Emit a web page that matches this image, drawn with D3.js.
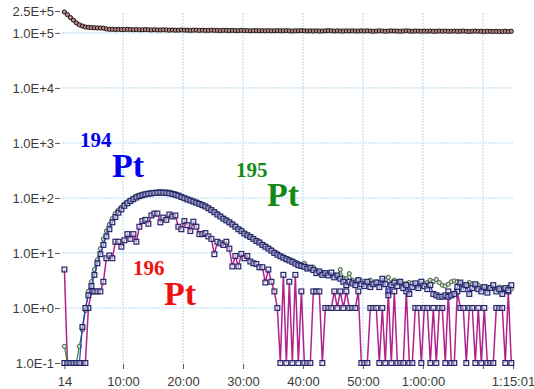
<!DOCTYPE html>
<html>
<head>
<meta charset="utf-8">
<script src="https://cdn.jsdelivr.net/npm/d3@7"></script>
<style>
  body { margin: 0; background: #fff; }
  svg { display: block; }
  .tick text { font-family: "Liberation Sans", Arial, sans-serif; font-size: 13px; fill: #3a3a3a; }
  .tick line { stroke: #555; }
  .iso { font-family: "Liberation Serif", "Times New Roman", serif; font-weight: bold; }
</style>
</head>
<body>
<svg id="Chart" width="534" height="389"></svg>
<script>
// sample grid: first read at 14 s, one read every 30 s (150 reads)
const startSec = 14;
const stepSec = 30;
const endSec = 4501;
const times = d3.range(startSec, endSec, stepSec);

// x tick positions in seconds (last tick is the run end 1:15:01)
const xTicks = [14, 600, 1200, 1800, 2400, 3000, 3600, 4200, 4501];
const yTicks = [0.1, 1, 10, 100, 1000, 10000, 100000, 250000];

// top trace (internal standard / total)
const total = [
  240000,215000,190000,170000,152000,140000,133000,128000,126000,125000,124000,123000,123000,122000,118000,116000,
  116000,115000,116000,115000,115000,116000,115000,114000,115000,114000,114000,115000,114000,113000,114000,113000,113000,114000,113000,112000,113000,112000,112000,113000,
  112000,112000,111000,112000,112000,111000,112000,111000,111000,112000,111000,111000,110000,111000,111000,110000,111000,110000,110000,111000,110000,110000,109000,110000,110000,109000,110000,109000,110000,109000,
  109000,110000,109000,109000,110000,109000,108000,109000,109000,110000,109000,108000,109000,108000,109000,108000,108000,109000,110000,109000,108000,109000,108000,108000,109000,108000,109000,108000,108000,109000,
  108000,109000,108000,107000,108000,109000,108000,107000,108000,109000,108000,108000,107000,108000,109000,108000,107000,108000,108000,107000,108000,107000,108000,107000,107000,108000,107000,108000,107000,107000,
  108000,107000,107000,108000,107000,106000,107000,108000,107000,107000,106000,107000,107000,106000,107000,106000,106000,107000,106000,107000
];

// 195Pt
const pt195 = [
  0.2,0.1,0.1,0.1,0.1,0.2,0.4,0.9,2.0,3.0,
  5.0,7.5,12,18,25,33,42,52,60,68,
  78,85,92,100,108,113,118,121,124,126,
  128,130,131,130,130,128,124,120,114,108,
  101,96,92,88,84,80,76,72,67,62,
  57,52,47,43,40,37,34,31,28,26,
  23,21,20,18.5,17,16,14.5,13.5,12.5,11.5,
  10.5,9.8,9.0,8.5,8.0,7.6,7.2,6.8,6.5,6.2,
  6.5,5.6,5.2,5.5,4.8,4.5,4.3,4.4,4.2,4.0,
  4.0,3.8,5.0,3.5,3.4,4.2,3.2,3.0,3.3,3.1,
  3.0,2.9,3.2,2.8,3.0,2.9,2.7,3.3,3.6,2.8,
  3.2,3.0,2.9,2.7,2.8,2.9,2.8,2.6,2.5,2.6,
  2.8,2.9,3.2,3.0,3.3,2.9,2.6,2.5,2.7,3.0,
  3.1,3.0,2.8,2.6,2.5,2.9,2.7,2.5,2.6,2.4,
  2.3,2.2,2.4,2.3,2.2,2.4,2.3,2.2,2.4,2.2
];

// 194Pt
const pt194 = [
  0.1,0.1,0.1,0.1,0.1,0.1,0.45,1.0,1.7,2.5,
  4.0,6.5,9.5,14,20,27,36,45,54,62,
  72,80,88,95,102,108,112,116,119,121,
  123,124,125,124,123,121,118,114,110,104,
  99,94,90,86,82,78,74,70,65,60,
  55,50,46,42,39,36,33,30,27,25,
  22.5,21,19.5,18,16.5,15.5,14,13,12,11,
  10,9.3,8.7,8.2,7.7,7.3,6.9,6.4,6.0,5.8,
  5.6,5.2,5.4,4.9,4.3,4.6,4.0,4.3,3.9,4.4,
  3.6,3.9,3.4,3.0,2.6,3.0,2.8,2.6,3.2,2.7,
  2.5,3.0,2.4,2.7,2.9,2.4,3.4,2.7,1.7,2.6,
  2.9,2.5,3.0,2.3,2.6,1.8,2.4,2.8,2.3,3.0,
  2.5,2.2,2.6,1.8,1.7,1.6,1.6,1.7,1.6,1.7,
  1.8,2.4,2.9,2.2,2.6,1.8,2.3,2.7,2.2,2.0,
  2.4,1.9,2.3,2.6,2.0,2.2,1.8,2.3,2.1,2.6
];

// 196Pt (zero counts are plotted on the 1.0E-1 floor)
const pt196 = [
  5.0,0.1,0.1,0.1,0.1,0.1,0.1,0.1,1.0,2.0,
  2.0,2.0,2.0,3.0,8,9,8,16,16,13,
  17,22,18,22,16,30,38,40,34,48,
  52,52,36,44,40,50,46,48,30,27,
  38,32,25,37,30,22,22,23,20,18,
  9.5,16,15,14,16,12,5.7,8.8,5.7,9.6,
  8.0,8.8,7.0,6.5,6.3,5.5,5.5,2.9,5.0,3.0,
  2.0,1.0,0.1,4.0,0.1,3.0,0.1,4.0,0.1,2.0,
  0.1,0.1,0.1,2.0,2.0,2.0,0.1,1.0,1.0,1.0,
  2.0,1.0,2.0,1.0,2.0,1.0,1.0,1.0,2.0,0.1,
  0.1,0.1,1.0,1.0,1.0,0.1,1.0,0.1,2.0,0.1,
  2.0,0.1,0.1,0.1,2.0,0.1,0.1,1.0,1.0,0.1,
  1.0,1.0,0.1,1.0,0.1,1.0,1.0,0.1,2.0,0.1,
  0.1,2.0,1.0,1.0,0.1,1.0,1.0,0.1,1.0,0.1,
  1.0,0.1,0.1,0.1,1.0,1.0,1.0,0.1,2.0,0.1
];

class IsotopeChart {
    constructor() {
        this.svg = d3.select("svg#Chart");
        this.xScale = d3.scaleLinear().domain([startSec, endSec]).range([64.4, 513]);
        this.yScale = d3.scaleLog().domain([0.1, 250000]).range([363, 11]);
        this.render();
    }

    fmtTime(s) {
        const h = Math.floor(s / 3600), m = Math.floor((s % 3600) / 60), sec = s % 60;
        const p = n => String(n).padStart(2, "0");
        if (s === 4200) return "";
        if (h > 0) return h + ":" + p(m) + ":" + p(sec);
        if (m > 0) return m + ":" + p(sec);
        return String(sec);
    }

    fmtSci(v) {
        const e = Math.floor(Math.log10(v) + 1e-9);
        const mant = v / Math.pow(10, e);
        return mant.toFixed(1) + "E" + (e < 0 ? "-" : "+") + Math.abs(e);
    }

    render() {
        const x = this.xScale, y = this.yScale;
        const grid = this.svg.append("g")
            .attr("stroke", "#b4d9f1").attr("stroke-width", 1)
            .attr("stroke-dasharray", "2,1");

        grid.selectAll("line.v")
            .data(xTicks.filter(t => t >= 600 && t <= 4200))
            .enter().append("line")
            .attr("x1", d => x(d)).attr("x2", d => x(d))
            .attr("y1", 13).attr("y2", 363);

        grid.selectAll("line.h")
            .data([1, 10, 100, 1000, 10000, 100000])
            .enter().append("line")
            .attr("x1", 62).attr("x2", 513)
            .attr("y1", d => y(d)).attr("y2", d => y(d));

        const yAxis = this.svg.append("g")
            .attr("transform", "translate(60,0)")
            .call(d3.axisLeft(y).tickValues(yTicks).tickFormat(d => this.fmtSci(d)).tickSize(5).tickPadding(1));
        yAxis.select(".domain").remove();

        const xAxis = this.svg.append("g")
            .attr("transform", "translate(0,364)")
            .call(d3.axisBottom(x).tickValues(xTicks).tickFormat(d => this.fmtTime(d)).tickSize(5).tickPadding(8));
        xAxis.select(".domain").remove();

        const series = [
            { data: total, line: "#8a2222", marker: "circle", stroke: "#1a1212", fill: "#b88888", w: 1.4 },
            { data: pt196, line: "#b0238f", marker: "square", stroke: "#24266a", fill: "#f2e8f4", w: 1.5 },
            { data: pt195, line: "#2a8a2a", marker: "circle", stroke: "#4a5a4a", fill: "#c8e0c0", w: 1.2 },
            { data: pt194, line: "#3434c8", marker: "square", stroke: "#22246a", fill: "#d8d8ee", w: 1.2 }
        ];

        const line = d3.line()
            .x((d, i) => x(times[i]))
            .y(d => y(d));

        series.forEach(s => {
            const g = this.svg.append("g");
            g.append("path")
                .datum(s.data)
                .attr("fill", "none")
                .attr("stroke", s.line)
                .attr("stroke-width", s.w)
                .attr("d", line);

            if (s.marker === "circle") {
                g.selectAll("circle")
                    .data(s.data)
                    .enter().append("circle")
                    .attr("cx", (d, i) => x(times[i]))
                    .attr("cy", d => y(d))
                    .attr("r", 2.1)
                    .attr("fill", s.fill)
                    .attr("stroke", s.stroke)
                    .attr("stroke-width", 1);
            } else {
                g.selectAll("rect")
                    .data(s.data)
                    .enter().append("rect")
                    .attr("x", (d, i) => x(times[i]) - 2.4)
                    .attr("y", d => y(d) - 2.4)
                    .attr("width", 4.8).attr("height", 4.8)
                    .attr("fill", s.fill).attr("fill-opacity", 0.6)
                    .attr("stroke", s.stroke)
                    .attr("stroke-width", 1.2);
            }
        });

        // isotope labels
        const labels = [
            { mass: "194", color: "#0000ee", mx: 80, my: 147, px: 112, py: 177 },
            { mass: "195", color: "#138a13", mx: 236, my: 177, px: 267, py: 206 },
            { mass: "196", color: "#ee1111", mx: 133, my: 275, px: 164, py: 305 }
        ];
        labels.forEach(l => {
            this.svg.append("text").attr("class", "iso")
                .attr("x", l.mx).attr("y", l.my)
                .attr("font-size", 21).attr("fill", l.color).text(l.mass);
            this.svg.append("text").attr("class", "iso")
                .attr("x", l.px).attr("y", l.py)
                .attr("font-size", 34).attr("fill", l.color).text("Pt");
        });
    }
}

new IsotopeChart();
</script>
</body>
</html>
